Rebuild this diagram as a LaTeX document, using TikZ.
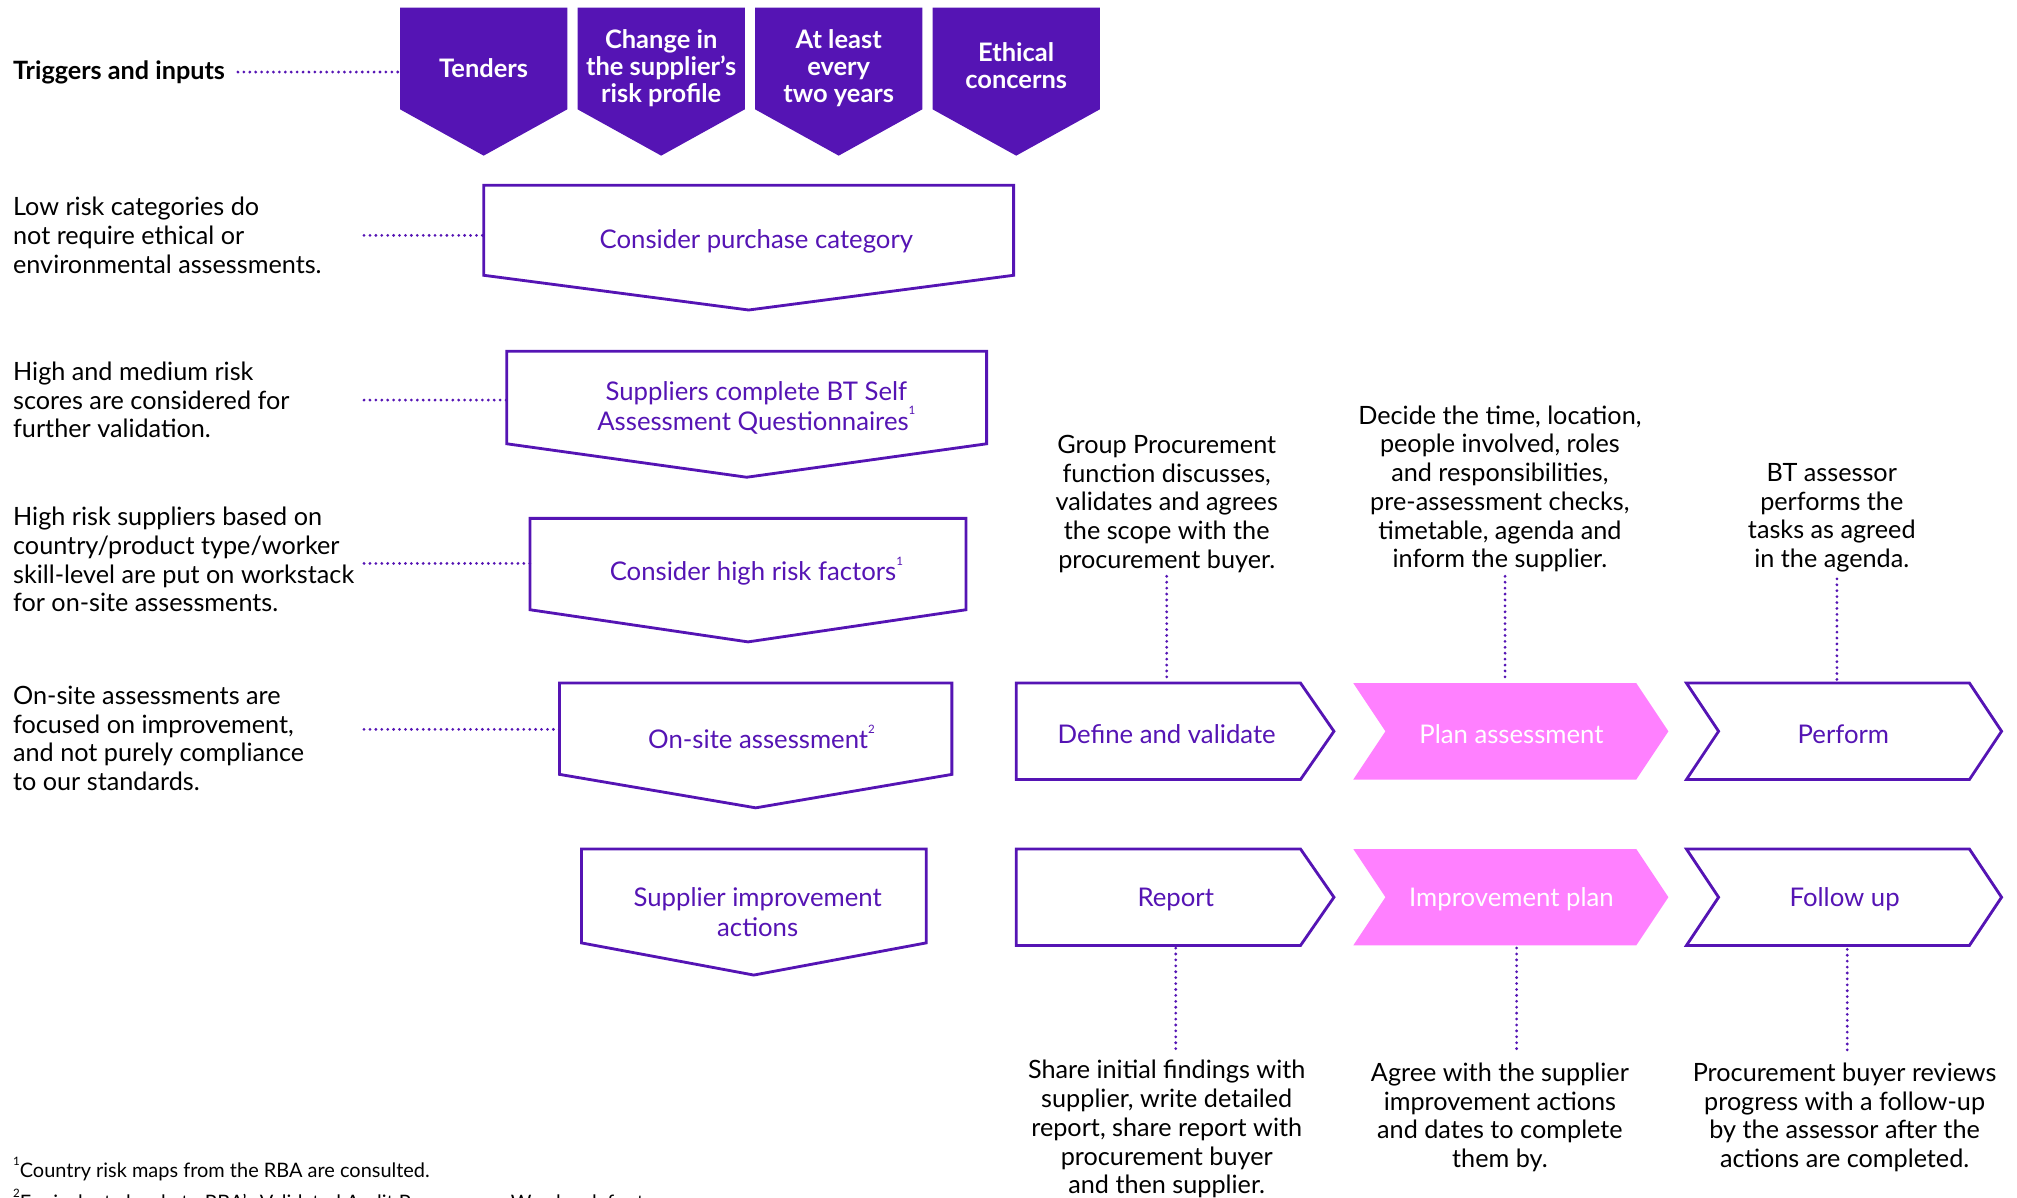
\documentclass[tikz,border=0pt]{standalone}
\usepackage{fontspec}
\setmainfont{Lato}
\definecolor{btp}{HTML}{5514B4}
\definecolor{btpink}{HTML}{FF80FF}
\newcommand\sups[1]{\raisebox{0.6em}{\fontsize{9}{9}\selectfont #1}}
\begin{document}
\begin{tikzpicture}[x=1pt,y=-1pt,
  body/.style={inner sep=0pt, font=\fontsize{19.6}{22.35}\selectfont, text=black},
  lefttxt/.style={body, align=left, anchor=north west},
  ctxt/.style={body, align=center, anchor=north},
  trigtxt/.style={inner sep=0pt, align=center, text=white, font=\fontsize{19.8}{21}\selectfont\bfseries},
  outbox/.style={draw=btp, line width=2.2pt, fill=white, line join=miter},
  pinkbox/.style={fill=btpink, draw=none},
  boxtxt/.style={inner sep=0pt, align=center, text=btp, font=\fontsize{20}{23}\selectfont},
  pinktxt/.style={inner sep=0pt, align=center, text=white, font=\fontsize{20}{23}\selectfont},
  dotline/.style={draw=btp, line width=2.4pt, line cap=round, dash pattern=on 0pt off 4.6pt},
  foot/.style={inner sep=0pt, anchor=west, font=\fontsize{15.5}{17}\selectfont, text=black}
]
\useasboundingbox (0,0) rectangle (1568,931);

% ---------------- Triggers row ----------------
\node[inner sep=0pt, anchor=west, font=\fontsize{19.6}{22}\selectfont\bfseries] (trigl) at (10,56) {Triggers and inputs};
\foreach \x/\nm in {311/t1,449/t2,587/t3,725/t4}{
  \fill[btp] (\x,6) -- ({\x+130},6) -- ({\x+130},85) -- ({\x+65},121) -- (\x,85) -- cycle;
  \coordinate (\nm) at ({\x+65},53);
  \coordinate (\nm L) at (\x,56);
}
\node[trigtxt] (tend) at (t1) {Tenders};
\node[trigtxt] (chg) at (t2) {Change in\\the supplier’s\\risk profile};
\node[trigtxt] (atl) at (t3) {At least\\every\\two years};
\node[trigtxt] (eth) at ([yshift=2pt]t4) {Ethical\\concerns};
\coordinate (trigd) at (185,56);
\draw[dotline] (trigd) -- (t1L);

% ---------------- Left column ----------------
\newcommand\dpent[6]{% x1 x2 top bot tip name
  \draw[outbox] (#1,#3) -- (#2,#3) -- (#2,#4) -- ({(#1+#2)/2},#5) -- (#1,#4) -- cycle;
  \coordinate (#6) at ({(#1+#2)/2},{(#3+#4)/2});
}
\dpent{376}{788}{144}{214}{241}{b1c}
\dpent{394}{767}{273}{345}{371}{b2c}
\dpent{412}{751}{403}{474}{499}{b3c}
\dpent{435}{740}{531}{602}{628}{b4c}
\dpent{452}{720}{660}{733}{758}{b5c}

\node[boxtxt] (b1) at (588,188) {Consider purchase category};
\node[boxtxt] (b2) at (588,317) {Suppliers complete BT Self\\Assessment Questionnaires\sups{1}};
\node[boxtxt] (b3) at (588,444) {Consider high risk factors\sups{1}};
\node[boxtxt] (b4) at (592,573) {On-site assessment\sups{2}};
\node[boxtxt] (b5) at (589,709) {Supplier improvement\\actions};

\node[lefttxt] (l1) at (10,153) {Low risk categories do\\not require ethical or\\environmental assessments.};
\node[lefttxt] (l2) at (10,281) {High and medium risk\\scores are considered for\\further validation.};
\node[lefttxt] (l3) at (10,394) {High risk suppliers based on\\country/product type/worker\\skill-level are put on workstack\\for on-site assessments.};
\node[lefttxt] (l4) at (10,533) {On-site assessments are\\focused on improvement,\\and not purely compliance\\to our standards.};

\coordinate (d1) at (283,183); \coordinate (e1) at (376,183);
\coordinate (d2) at (283,311); \coordinate (e2) at (394,311);
\coordinate (d3) at (283,438); \coordinate (e3) at (412,438);
\coordinate (d4) at (283,567); \coordinate (e4) at (435,567);
\draw[dotline] (d1) -- (e1);
\draw[dotline] (d2) -- (e2);
\draw[dotline] (d3) -- (e3);
\draw[dotline] (d4) -- (e4);

% ---------------- Right process rows ----------------
\newcommand\rarrow[3]{% top bot style
  \draw[#3] (790,#1) -- (1011,#1) -- (1037,{(#1+#2)/2}) -- (1011,#2) -- (790,#2) -- cycle;}
\newcommand\chev[4]{% x top bot style
  \draw[#4] (#1,#2) -- ({#1+220},#2) -- ({#1+245},{(#2+#3)/2}) -- ({#1+220},#3) -- (#1,#3) -- ({#1+25},{(#2+#3)/2}) -- cycle;}

\rarrow{531}{606}{outbox}
\chev{1052}{531}{606}{pinkbox}
\chev{1311}{531}{606}{outbox}
\rarrow{660}{735}{outbox}
\chev{1052}{660}{735}{pinkbox}
\chev{1311}{660}{735}{outbox}

\node[boxtxt] (dv) at (907,571) {Define and validate};
\node[pinktxt] (pa) at (1175,571) {Plan assessment};
\node[boxtxt] (pf) at (1433,571) {Perform};
\node[boxtxt] (rp) at (914,699) {Report};
\node[pinktxt] (ip) at (1175,699) {Improvement plan};
\node[boxtxt] (fu) at (1434,699) {Follow up};

% texts above
\node[ctxt] (gp) at (907,338) {Group Procurement\\function discusses,\\validates and agrees\\the scope with the\\procurement buyer.};
\node[ctxt] (dc) at (1166,315) {Decide the time, location,\\people involved, roles\\and responsibilities,\\pre-assessment checks,\\timetable, agenda and\\inform the supplier.};
\node[ctxt] (ba) at (1424,360) {BT assessor\\performs the\\tasks as agreed\\in the agenda.};

% texts below
\node[ctxt] (sh) at (907,824) {Share initial findings with\\supplier, write detailed\\report, share report with\\procurement buyer\\and then supplier.};
\node[ctxt] (ag) at (1166,826) {Agree with the supplier\\improvement actions\\and dates to complete\\them by.};
\node[ctxt] (pr) at (1434,826) {Procurement buyer reviews\\progress with a follow-up\\by the assessor after the\\actions are completed.};

% vertical dotted connectors
\coordinate (u1a) at (907,448);  \coordinate (u1b) at (907,530);
\coordinate (u2a) at (1170,448); \coordinate (u2b) at (1170,530);
\coordinate (u3a) at (1428,450); \coordinate (u3b) at (1428,530);
\coordinate (w1a) at (914,737);  \coordinate (w1b) at (914,818);
\coordinate (w2a) at (1179,737); \coordinate (w2b) at (1179,818);
\coordinate (w3a) at (1436,738); \coordinate (w3b) at (1436,818);
\draw[dotline] (u1a) -- (u1b);
\draw[dotline] (u2a) -- (u2b);
\draw[dotline] (u3a) -- (u3b);
\draw[dotline] (w1a) -- (w1b);
\draw[dotline] (w2a) -- (w2b);
\draw[dotline] (w3a) -- (w3b);

% footnotes
\node[foot] (f1) at (10,909) {\sups{1}Country risk maps from the RBA are consulted.};
\node[foot] (f2) at (10,934) {\sups{2}Equivalent closely to RBA’s Validated Audit Programme. We also defer to};
\end{tikzpicture}
\end{document}
